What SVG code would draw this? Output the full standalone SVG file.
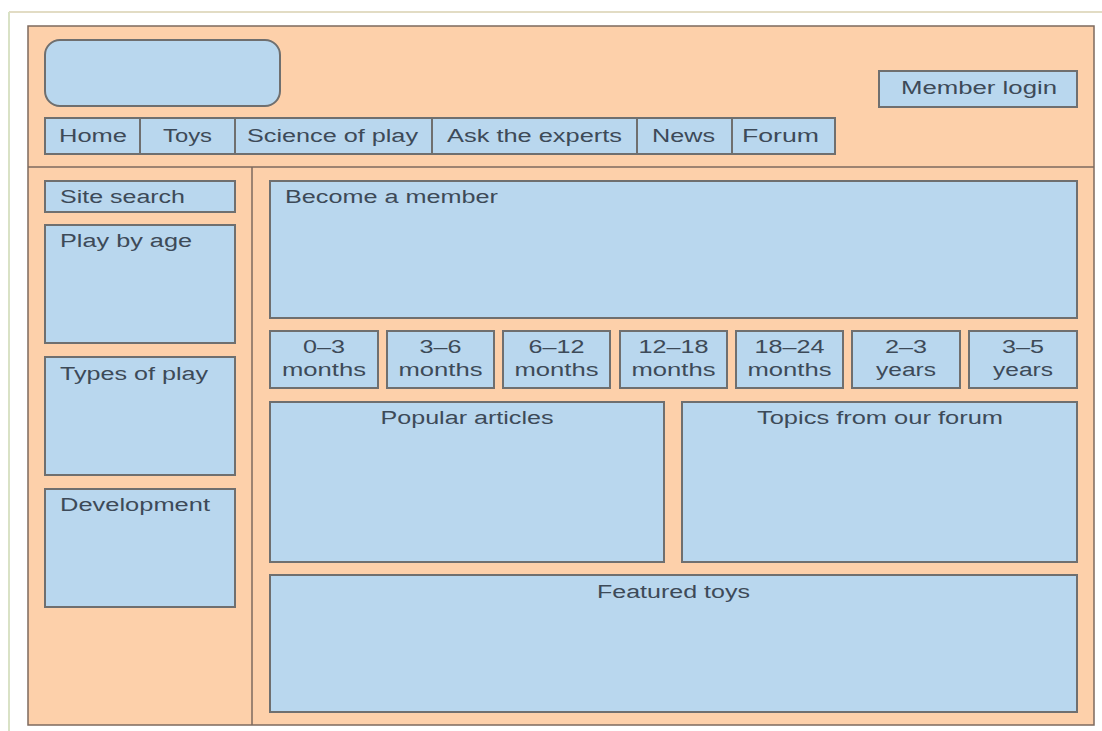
<svg xmlns="http://www.w3.org/2000/svg" width="1102" height="731" viewBox="0 0 1102 731">
<style>
.bg{fill:#ffffff}
.frame{fill:#fdd0aa;stroke:#7d6a5e;stroke-width:1.5}
.div{stroke:#7d6a5e;stroke-width:1.5;fill:none}
.box{fill:#b9d7ee;stroke:#6f6f6f;stroke-width:2}
.t{font-family:"Liberation Sans",Arial,sans-serif;font-size:18px;fill:#3d4a58}
.c{text-anchor:middle}
</style>
<rect class="bg" x="0" y="0" width="1102" height="731"/>
<line x1="9" y1="12" x2="1102" y2="12" stroke="#e2dcc4" stroke-width="2"/>
<line x1="9" y1="12" x2="9" y2="731" stroke="#d9e2c6" stroke-width="2"/>
<rect class="frame" x="28" y="26" width="1066" height="699"/>
<g id="dividers">
<line class="div" x1="28" y1="167" x2="1094" y2="167"/>
<line class="div" x1="252" y1="167" x2="252" y2="725"/>
</g>
<g id="logo"><rect class="box" x="45" y="40" width="235" height="66" rx="15"/></g>
<g id="member-login"><rect class="box" x="879" y="71" width="198" height="36"/><text class="t" x="901" y="94" textLength="156" lengthAdjust="spacingAndGlyphs">Member login</text></g>
<g id="nav">
<rect class="box" x="45" y="118" width="95" height="36"/><text class="t" x="59" y="142" textLength="68" lengthAdjust="spacingAndGlyphs">Home</text>
<rect class="box" x="140" y="118" width="95" height="36"/><text class="t" x="163" y="142" textLength="49" lengthAdjust="spacingAndGlyphs">Toys</text>
<rect class="box" x="235" y="118" width="197" height="36"/><text class="t" x="247" y="142" textLength="171" lengthAdjust="spacingAndGlyphs">Science of play</text>
<rect class="box" x="432" y="118" width="205" height="36"/><text class="t" x="447" y="142" textLength="175" lengthAdjust="spacingAndGlyphs">Ask the experts</text>
<rect class="box" x="637" y="118" width="95" height="36"/><text class="t" x="652" y="142" textLength="63" lengthAdjust="spacingAndGlyphs">News</text>
<rect class="box" x="732" y="118" width="103" height="36"/><text class="t" x="742" y="142" textLength="77" lengthAdjust="spacingAndGlyphs">Forum</text>
</g>
<g id="site-search"><rect class="box" x="45" y="181" width="190" height="31"/><text class="t" x="60" y="203" textLength="125" lengthAdjust="spacingAndGlyphs">Site search</text></g>
<g id="play-by-age"><rect class="box" x="45" y="225" width="190" height="118"/><text class="t" x="60" y="247" textLength="132" lengthAdjust="spacingAndGlyphs">Play by age</text></g>
<g id="types-of-play"><rect class="box" x="45" y="357" width="190" height="118"/><text class="t" x="60" y="380" textLength="148" lengthAdjust="spacingAndGlyphs">Types of play</text></g>
<g id="development"><rect class="box" x="45" y="489" width="190" height="118"/><text class="t" x="60" y="511" textLength="150" lengthAdjust="spacingAndGlyphs">Development</text></g>
<g id="become-member"><rect class="box" x="270" y="181" width="807" height="137"/><text class="t" x="285" y="203" textLength="213" lengthAdjust="spacingAndGlyphs">Become a member</text></g>
<g id="ages">
<rect class="box" x="270" y="331" width="108" height="57"/><text class="t c" x="324" y="353" textLength="42" lengthAdjust="spacingAndGlyphs">0–3</text><text class="t c" x="324" y="376" textLength="84" lengthAdjust="spacingAndGlyphs">months</text>
<rect class="box" x="387" y="331" width="107" height="57"/><text class="t c" x="440.5" y="353" textLength="42" lengthAdjust="spacingAndGlyphs">3–6</text><text class="t c" x="440.5" y="376" textLength="84" lengthAdjust="spacingAndGlyphs">months</text>
<rect class="box" x="503" y="331" width="107" height="57"/><text class="t c" x="556.5" y="353" textLength="56" lengthAdjust="spacingAndGlyphs">6–12</text><text class="t c" x="556.5" y="376" textLength="84" lengthAdjust="spacingAndGlyphs">months</text>
<rect class="box" x="620" y="331" width="107" height="57"/><text class="t c" x="673.5" y="353" textLength="70" lengthAdjust="spacingAndGlyphs">12–18</text><text class="t c" x="673.5" y="376" textLength="84" lengthAdjust="spacingAndGlyphs">months</text>
<rect class="box" x="736" y="331" width="107" height="57"/><text class="t c" x="789.5" y="353" textLength="70" lengthAdjust="spacingAndGlyphs">18–24</text><text class="t c" x="789.5" y="376" textLength="84" lengthAdjust="spacingAndGlyphs">months</text>
<rect class="box" x="852" y="331" width="108" height="57"/><text class="t c" x="906" y="353" textLength="42" lengthAdjust="spacingAndGlyphs">2–3</text><text class="t c" x="906" y="376" textLength="60" lengthAdjust="spacingAndGlyphs">years</text>
<rect class="box" x="969" y="331" width="108" height="57"/><text class="t c" x="1023" y="353" textLength="42" lengthAdjust="spacingAndGlyphs">3–5</text><text class="t c" x="1023" y="376" textLength="60" lengthAdjust="spacingAndGlyphs">years</text>
</g>
<g id="popular-articles"><rect class="box" x="270" y="402" width="394" height="160"/><text class="t c" x="467" y="424" textLength="173" lengthAdjust="spacingAndGlyphs">Popular articles</text></g>
<g id="forum-topics"><rect class="box" x="682" y="402" width="395" height="160"/><text class="t c" x="880" y="424" textLength="246" lengthAdjust="spacingAndGlyphs">Topics from our forum</text></g>
<g id="featured-toys"><rect class="box" x="270" y="575" width="807" height="137"/><text class="t c" x="673.5" y="598" textLength="153" lengthAdjust="spacingAndGlyphs">Featured toys</text></g>
<g id="connectors"></g>
</svg>
